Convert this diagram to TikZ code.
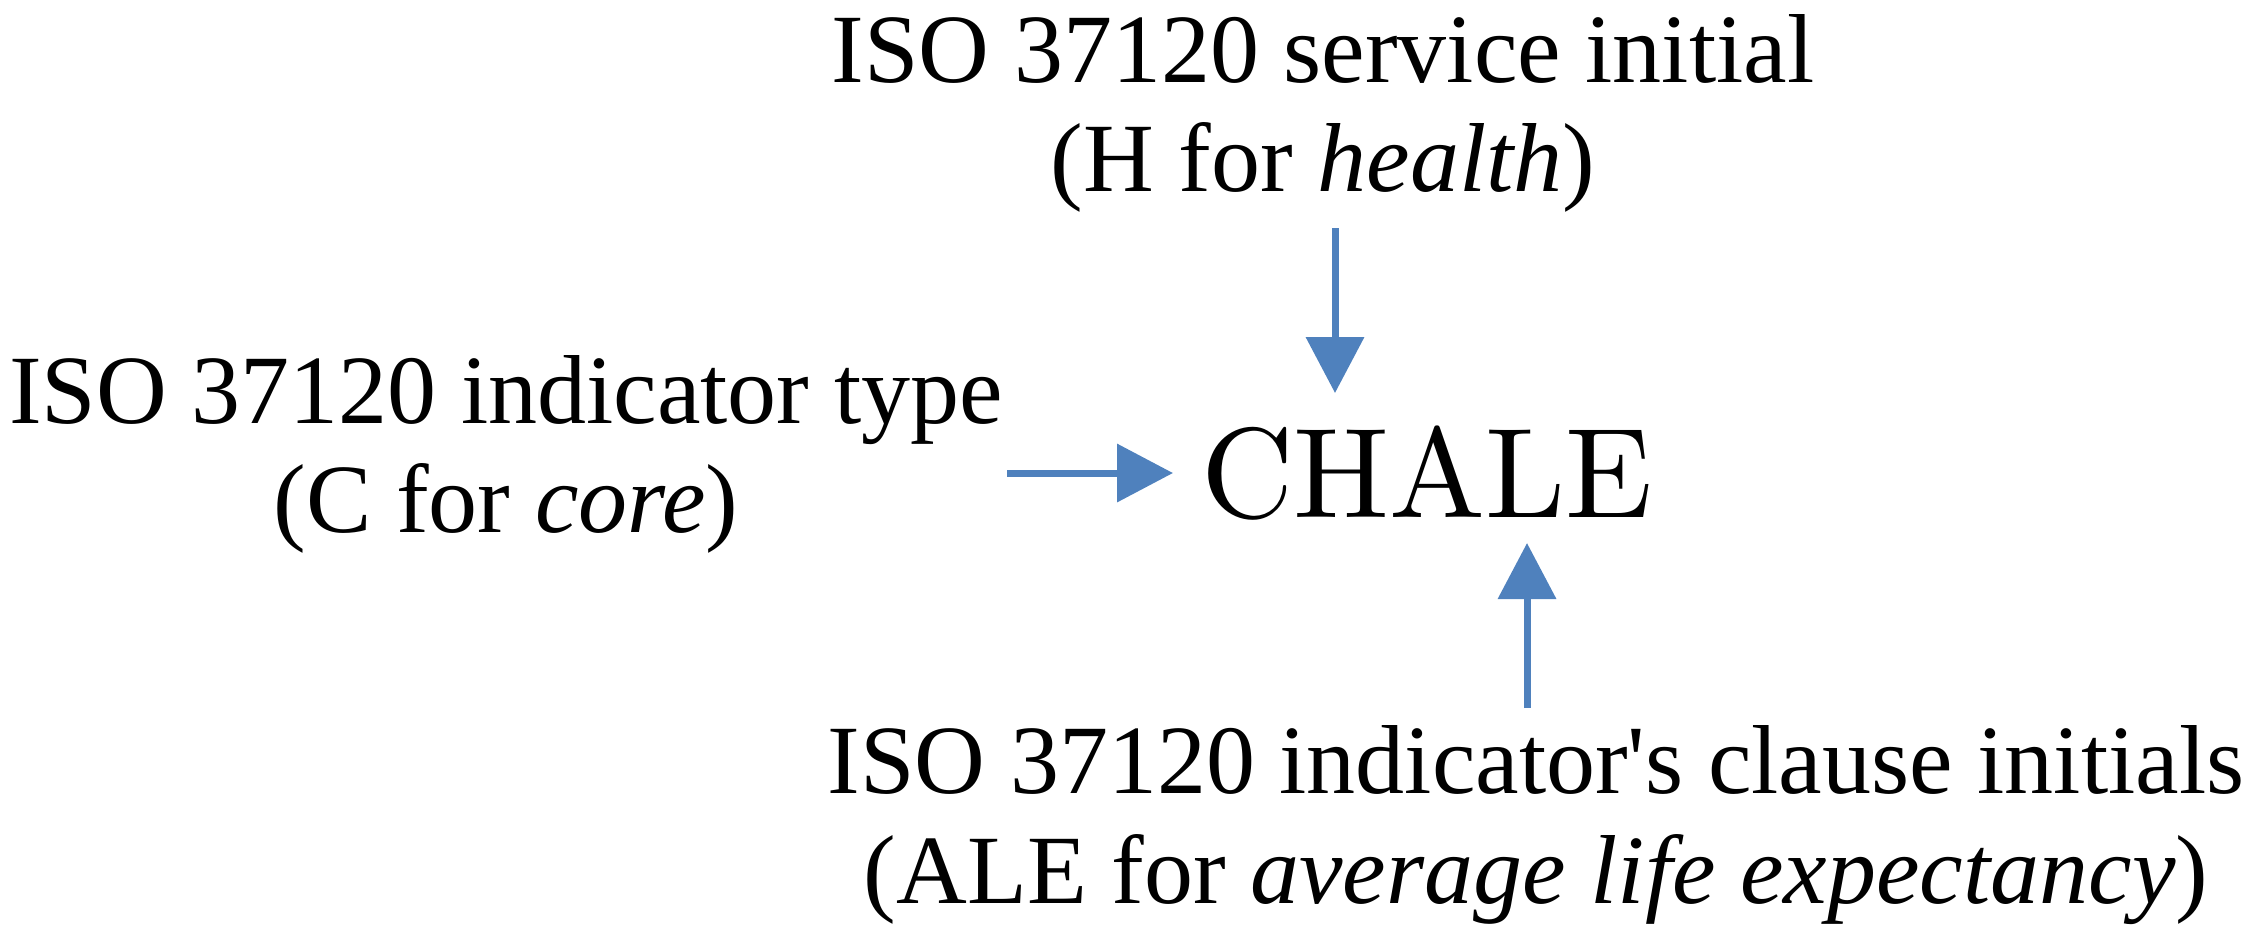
\documentclass[tikz,border=0pt]{standalone}
\usepackage{fontspec}
\newfontfamily\tnr{Liberation Serif}
\newfontfamily\lmten{lmroman10-regular.otf}
\usetikzlibrary{arrows.meta}
\definecolor{arrblue}{HTML}{4F81BD}
\begin{document}
\begin{tikzpicture}[x=0.25pt,y=-0.25pt,
  lbl/.style={anchor=base,inner sep=0pt,font=\tnr\fontsize{24.5pt}{29pt}\selectfont},
  code/.style={anchor=base,inner sep=0pt,font=\lmten\fontsize{32pt}{38pt}\selectfont},
  arr/.style={draw=arrblue,line width=1.75pt,-{Triangle[length=14pt,width=14.25pt]}}]
\useasboundingbox (0,0) rectangle (2266,946);
% labels
\node[lbl] (top1) at (1323,82) {ISO 37120 service initial};
\node[lbl] (top2) at (1323,191) {(H for \textit{health})};
\node[lbl] (left1) at (506,423) {ISO 37120 indicator type};
\node[lbl] (left2) at (506,532) {(C for \textit{core})};
\node[lbl] (bot1) at (1536,793) {ISO 37120 indicator\textquotesingle s clause initials};
\node[lbl] (bot2) at (1536,903) {(ALE for \textit{average life expectancy})};
% central code
\node[code] (chale) at (1427,517) {CHALE};
% connector ends
\coordinate (topS) at (1335,228);
\coordinate (topE) at (1335,393);
\coordinate (leftS) at (1007,473);
\coordinate (leftE) at (1173,473);
\coordinate (botS) at (1527,708);
\coordinate (botE) at (1527,543);
\draw[arr] (topS) -- (topE);
\draw[arr] (leftS) -- (leftE);
\draw[arr] (botS) -- (botE);
\end{tikzpicture}
\end{document}
